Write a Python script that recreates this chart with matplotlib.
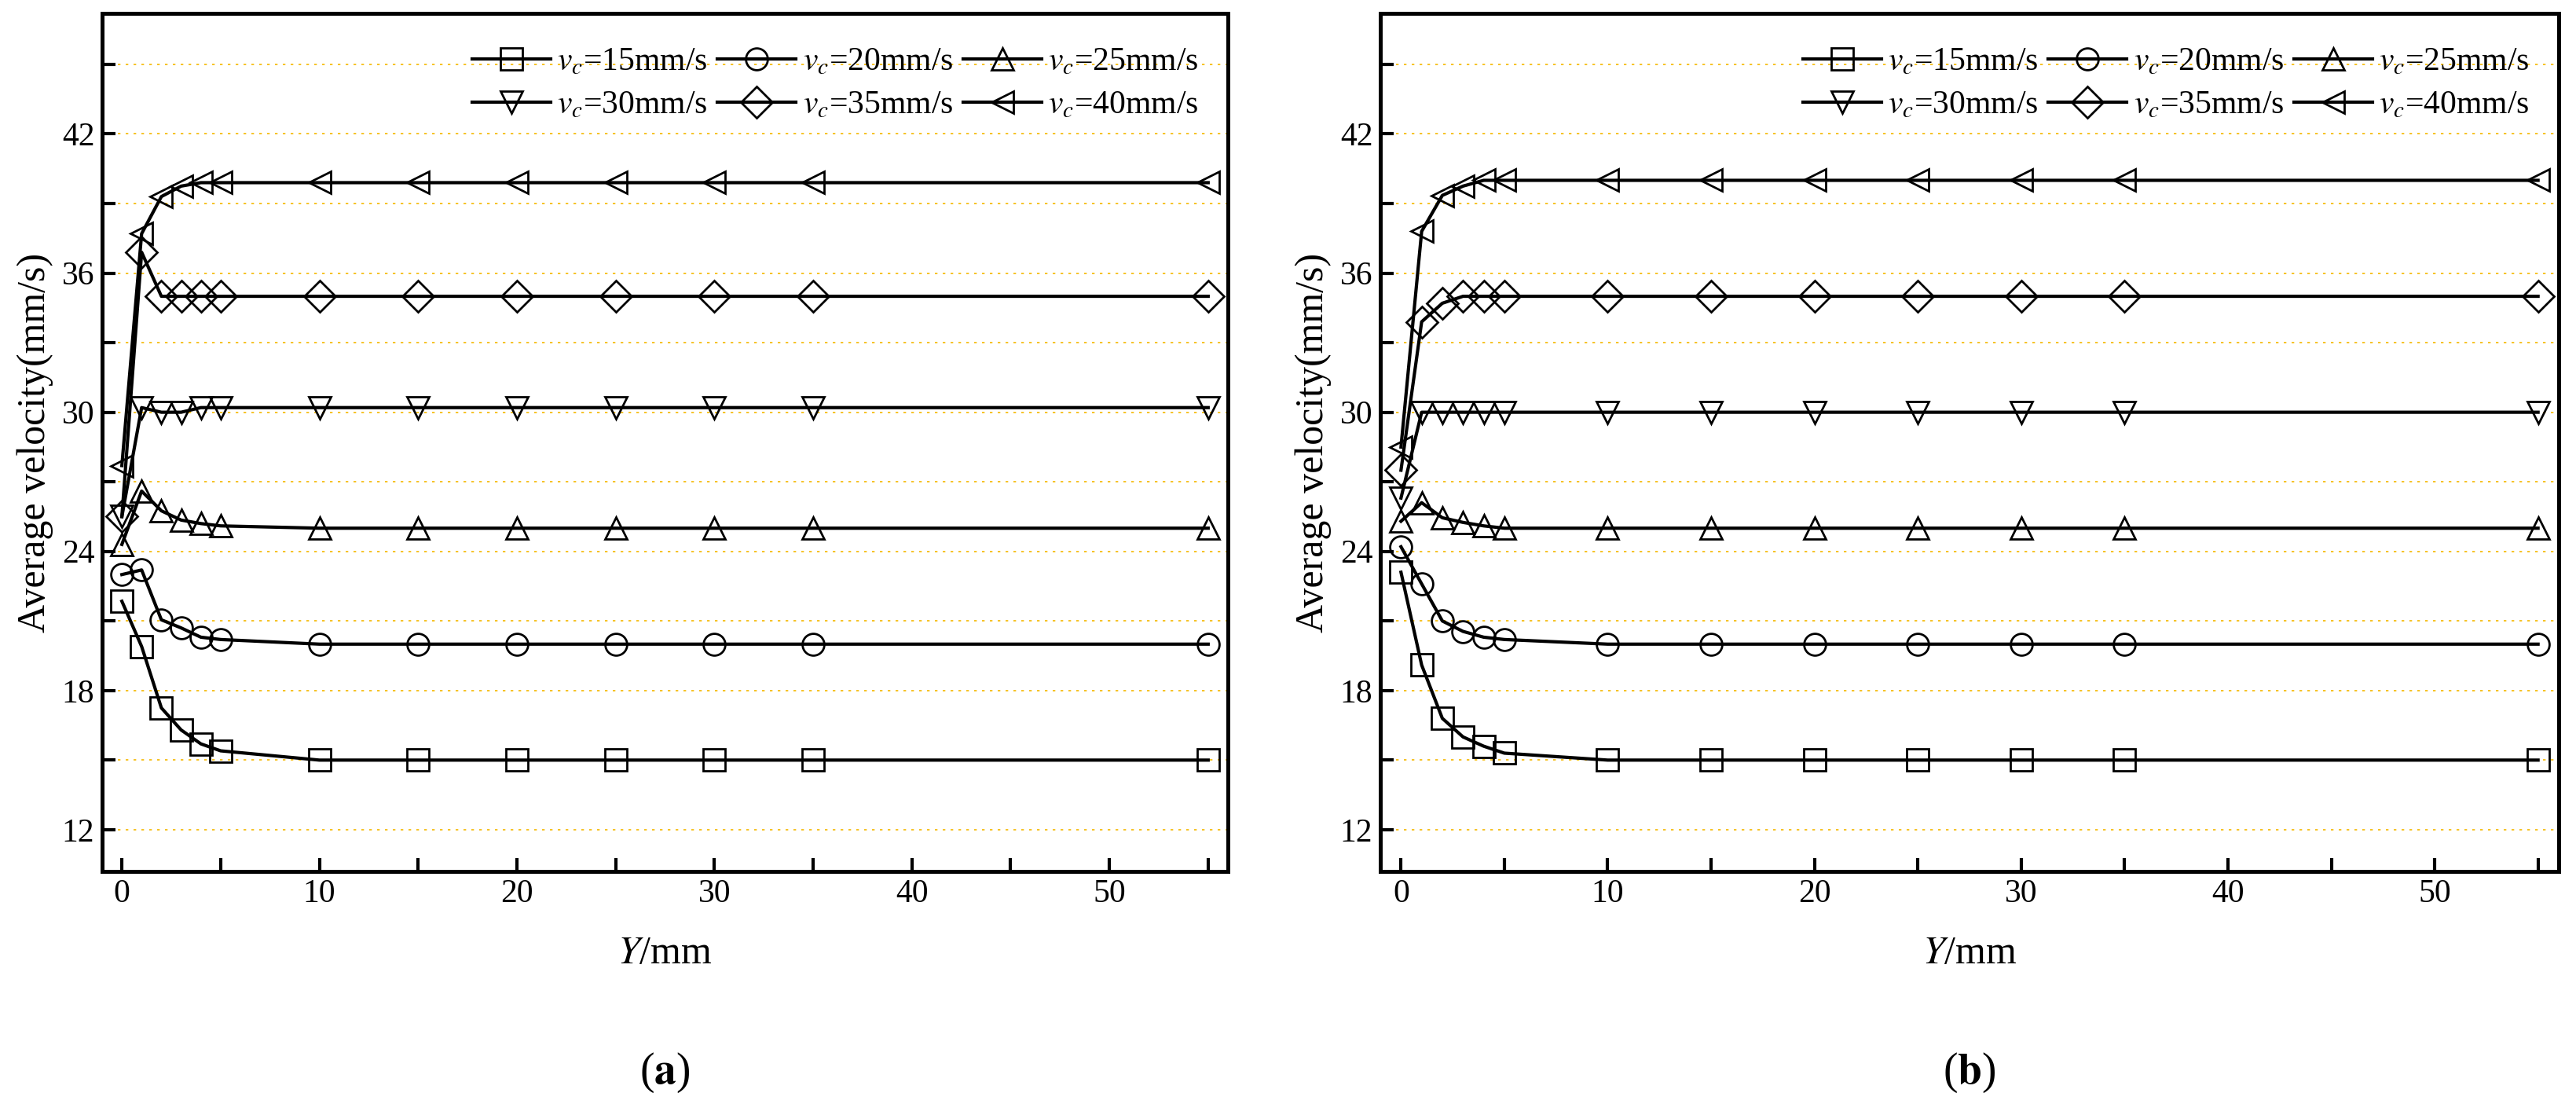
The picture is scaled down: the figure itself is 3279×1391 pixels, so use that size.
import matplotlib
matplotlib.use("Agg")
from matplotlib import pyplot as plt
from matplotlib.ticker import MultipleLocator

plt.rcParams['font.family'] = ['Liberation Serif', 'DejaVu Serif']
plt.rcParams['mathtext.fontset'] = 'stix'

y_pos = [0, 1, 2, 3, 4, 5, 10, 15, 20, 25, 30, 35, 55]
labels = ['15', '20', '25', '30', '35', '40']
markers = ['s', 'o', '^', 'v', 'D', '<']

# panel (a)
a15 = [21.85, 19.9, 17.25, 16.3, 15.7, 15.4, 15.0, 15.0, 15.0, 15.0, 15.0, 15.0, 15.0]
a20 = [23.0, 23.2, 21.05, 20.7, 20.3, 20.2, 20.0, 20.0, 20.0, 20.0, 20.0, 20.0, 20.0]
a25 = [24.3, 26.6, 25.75, 25.35, 25.2, 25.1, 25.0, 25.0, 25.0, 25.0, 25.0, 25.0, 25.0]
a30 = [25.5, 30.2, 30.0, 30.0, 30.2, 30.2, 30.2, 30.2, 30.2, 30.2, 30.2, 30.2, 30.2]
a35 = [25.5, 36.9, 35.0, 35.0, 35.0, 35.0, 35.0, 35.0, 35.0, 35.0, 35.0, 35.0, 35.0]
a40 = [27.7, 37.7, 39.3, 39.75, 39.9, 39.9, 39.9, 39.9, 39.9, 39.9, 39.9, 39.9, 39.9]

# panel (b)
b15 = [23.1, 19.1, 16.8, 16.0, 15.6, 15.3, 15.0, 15.0, 15.0, 15.0, 15.0, 15.0, 15.0]
b20 = [24.2, 22.6, 21.0, 20.55, 20.3, 20.2, 20.0, 20.0, 20.0, 20.0, 20.0, 20.0, 20.0]
b25 = [25.3, 26.1, 25.45, 25.25, 25.1, 25.0, 25.0, 25.0, 25.0, 25.0, 25.0, 25.0, 25.0]
b30 = [26.3, 30.0, 30.0, 30.0, 30.0, 30.0, 30.0, 30.0, 30.0, 30.0, 30.0, 30.0, 30.0]
b35 = [27.5, 33.9, 34.7, 35.0, 35.0, 35.0, 35.0, 35.0, 35.0, 35.0, 35.0, 35.0, 35.0]
b40 = [28.5, 37.8, 39.35, 39.75, 40.0, 40.0, 40.0, 40.0, 40.0, 40.0, 40.0, 40.0, 40.0]

fig = plt.figure(figsize=(16.4, 6.955), dpi=200)
ax_a = fig.add_axes([130/3280, 1 - 1109/1391, 1433/3280, 1092/1391])
ax_b = fig.add_axes([1757/3280, 1 - 1109/1391, 1500/3280, 1092/1391])

for ax, series, tag in [(ax_a, [a15, a20, a25, a30, a35, a40], 'a'),
                        (ax_b, [b15, b20, b25, b30, b35, b40], 'b')]:
    lines = []
    for vals, m, lab in zip(series, markers, labels):
        ln, = ax.plot(y_pos, vals, color='black', lw=1.5, marker=m, ms=10,
                      mfc='none', mec='black', mew=1.0,
                      label='$v_c$=' + lab + 'mm/s')
        lines.append(ln)
    ax.set_xlim(-1, 56)
    ax.set_ylim(10.2, 47.2)
    ax.yaxis.set_major_locator(MultipleLocator(6))
    ax.yaxis.set_minor_locator(MultipleLocator(3))
    ax.xaxis.set_major_locator(MultipleLocator(10))
    ax.xaxis.set_minor_locator(MultipleLocator(5))
    for g in range(12, 46, 3):
        ax.axhline(g, color='#f5b800', lw=0.6, ls=(0, (2, 4)), zorder=0)
    ax.tick_params(which='both', direction='in', width=1.5, labelsize=15)
    ax.tick_params(which='major', length=6)
    ax.tick_params(which='minor', length=6)
    for s in ax.spines.values():
        s.set_linewidth(1.8)
    ax.set_ylabel('Average velocity(mm/s)', fontsize=18, labelpad=4)
    ax.set_xlabel('$Y$/mm', fontsize=18, labelpad=12)
    order = [0, 3, 1, 4, 2, 5]
    ax.legend([lines[i] for i in order], [lines[i].get_label() for i in order],
              loc='upper right', ncol=3, frameon=False, fontsize=15,
              handlelength=2.4, columnspacing=0.3, handletextpad=0.2,
              labelspacing=0.4, bbox_to_anchor=(1.0, 0.995))
    ax.text(0.5, -0.235, '(' + r'$\mathbf{' + tag + '}$' + ')', transform=ax.transAxes,
            ha='center', va='center', fontsize=20)

fig.savefig('out.png', dpi=200)
